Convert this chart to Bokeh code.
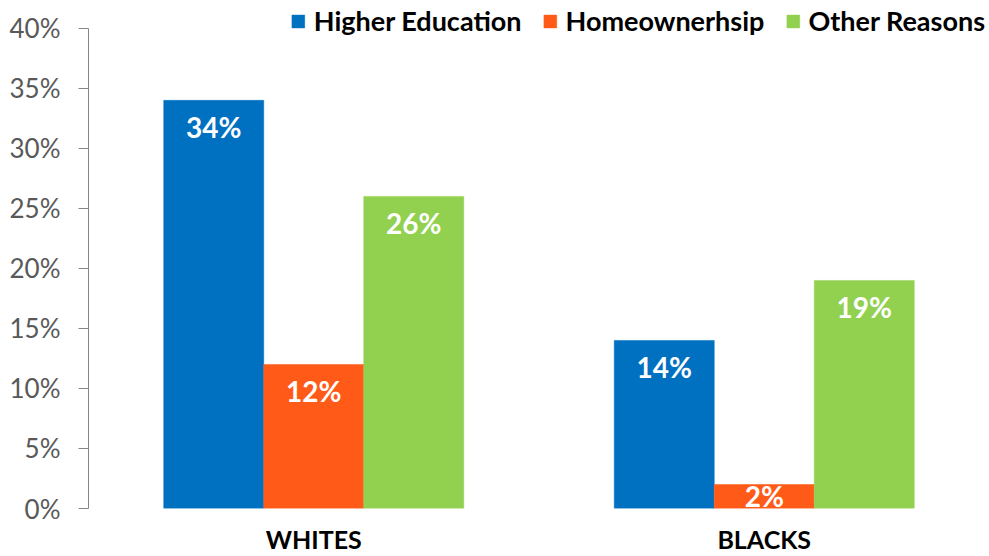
from bokeh.plotting import figure
from bokeh.models import (ColumnDataSource, FactorRange, Range1d, Legend, LegendItem,
                          PrintfTickFormatter, FixedTicker)
from bokeh.transform import dodge
from bokeh.core.properties import value
from bokeh.embed import file_html
from bokeh.resources import INLINE

# ---- data ----
groups = ["WHITES", "BLACKS"]
series_names = ["Higher Education", "Homeownerhsip", "Other Reasons"]
higher_education = [34, 14]
homeownership = [12, 2]
other_reasons = [26, 19]
y_ticks = [0, 5, 10, 15, 20, 25, 30, 35, 40]

series_values = [higher_education, homeownership, other_reasons]
colors = ["#0070C0", "#FF5A17", "#92D050"]
offsets = [-0.222, 0.0, 0.222]
bar_w = 0.222

FONT = "Lato"

p = figure(width=989, height=556, output_backend="svg", toolbar_location=None,
           x_range=FactorRange(factors=groups, range_padding=0),
           y_range=Range1d(0, 42.32),
           min_border_left=88, min_border_right=0, min_border_top=0, min_border_bottom=45)

p.outline_line_color = None
p.xgrid.grid_line_color = None
p.ygrid.grid_line_color = None
p.background_fill_color = "white"

renderers = []
for name, vals, col, off in zip(series_names, series_values, colors, offsets):
    label_y = [v - 2.24 if v > 4.5 else v / 2 for v in vals]
    src = ColumnDataSource(dict(x=groups, top=vals,
                                label=[f"{v}%" for v in vals], label_y=label_y))
    r = p.vbar(x=dodge("x", off, range=p.x_range), top="top", width=bar_w,
               fill_color=col, line_color=col, line_width=0.5, source=src)
    renderers.append(r)
    p.text(x=dodge("x", off, range=p.x_range), y="label_y", text="label", source=src,
           text_align="center", text_baseline="middle", text_color="white",
           text_font=value(FONT), text_font_style="bold", text_font_size="28px")

# y axis
p.yaxis.ticker = FixedTicker(ticks=y_ticks)
p.yaxis.bounds = (0, 40)
p.yaxis.formatter = PrintfTickFormatter(format="%d%%")
p.yaxis.major_label_text_font = FONT
p.yaxis.major_label_text_font_size = "26px"
p.yaxis.major_label_text_color = "#595959"
p.yaxis.axis_line_color = "#868686"
p.yaxis.major_tick_line_color = "#868686"
p.yaxis.major_tick_in = 0
p.yaxis.major_tick_out = 10
p.yaxis.minor_tick_line_color = None
p.yaxis.major_label_standoff = 18

# x axis
p.xaxis.axis_line_color = None
p.xaxis.major_tick_line_color = None
p.xaxis.minor_tick_line_color = None
p.xaxis.major_tick_out = 0
p.xaxis.major_tick_in = 0
p.xaxis.major_label_text_font = FONT
p.xaxis.major_label_text_font_size = "25px"
p.xaxis.major_label_text_font_style = "bold"
p.xaxis.major_label_text_color = "#000000"
p.xaxis.major_label_standoff = 15

legend = Legend(items=[LegendItem(label=n, renderers=[r]) for n, r in zip(series_names, renderers)],
                orientation="horizontal", location="top_right",
                label_text_font=FONT, label_text_font_size="27px", label_text_font_style="bold",
                label_text_color="#000000", glyph_width=16, glyph_height=16,
                label_standoff=8, spacing=20, padding=0, margin=4,
                border_line_color=None, background_fill_alpha=0)
p.add_layout(legend)

open("out.html", "w").write(file_html(p, INLINE))
